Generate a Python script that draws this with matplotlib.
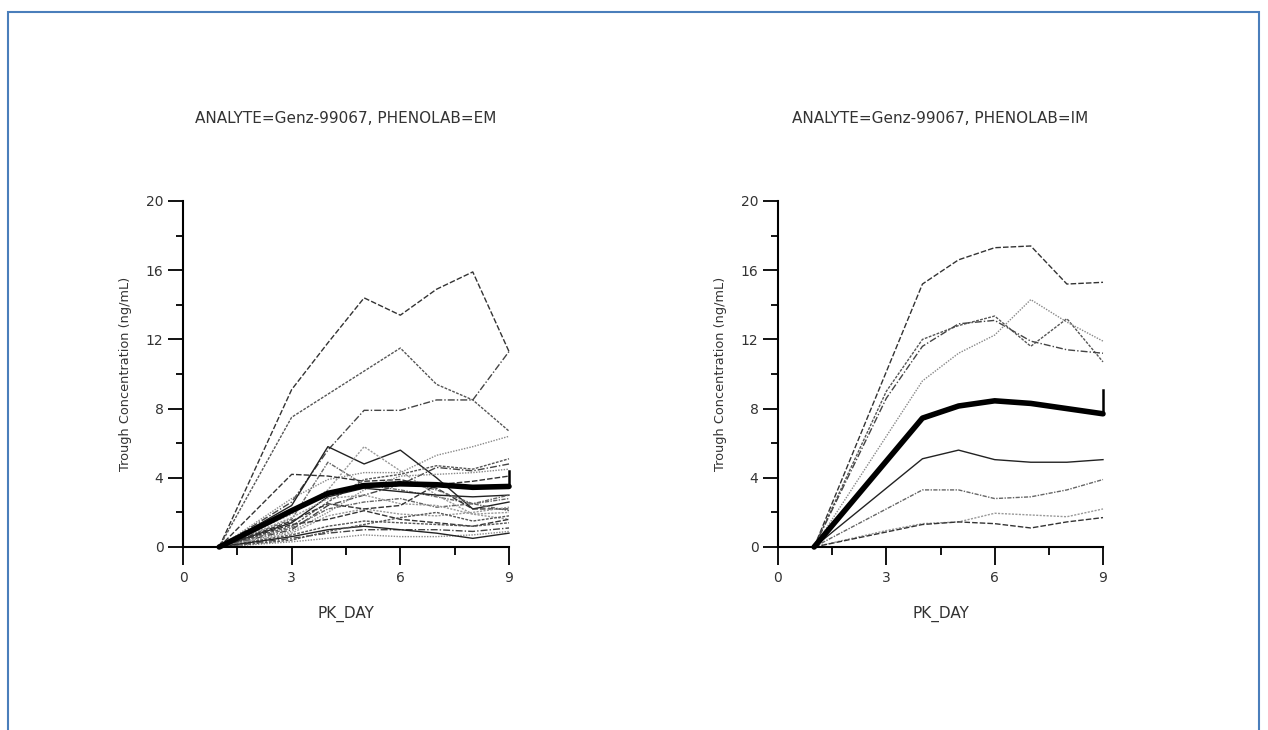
import matplotlib.pyplot as plt
import matplotlib.patches as mpatches
import numpy as np

DAYS = [1, 3, 4, 5, 6, 7, 8, 9]
N = None

# individual subjects, PHENOLAB=EM
em_subjects = [
    [0, 9.1, 11.8, 14.4, 13.4, 14.9, 15.9, 11.3],
    [0, 7.5, N, N, 11.5, 9.4, 8.5, 6.7],
    [0, 2.6, 5.6, 7.9, 7.9, 8.5, 8.5, 11.3],
    [0, 2.8, 3.9, 4.3, 4.3, 5.3, 5.8, 6.4],
    [0, 2.4, 5.8, 4.8, 5.6, 4.0, 2.2, 2.6],
    [0, 1.6, 4.9, 3.6, 3.3, 2.9, 2.5, 2.1],
    [0, 1.9, 3.3, 5.8, 4.4, 3.0, 1.9, 1.6],
    [0, 4.2, 4.1, 3.8, 3.9, 3.4, 2.2, 2.2],
    [0, 1.2, 2.6, 3.9, 4.2, 4.7, 4.5, 5.1],
    [0, 1.0, 2.4, 3.0, 3.6, 4.6, 4.4, 4.8],
    [0, 0.9, 2.0, 3.3, 4.1, 4.2, 4.3, 4.5],
    [0, 1.4, 2.9, 3.4, 3.2, 3.0, 2.9, 3.0],
    [0, 1.1, 2.2, 2.6, 2.8, 2.3, 2.5, 2.8],
    [0, 0.8, 1.8, 2.2, 1.9, 1.8, 2.0, 2.3],
    [0, 1.3, 1.6, 2.1, 1.6, 1.4, 1.2, 1.6],
    [0, 0.7, 1.2, 1.5, 1.4, 1.3, 1.2, 1.4],
    [0, 0.5, 0.8, 1.0, 1.0, 1.0, 0.9, 1.1],
    [0, 0.3, 0.5, 0.7, 0.6, 0.6, 0.7, 0.9],
    [0, 0.6, 1.0, 1.2, 1.0, 0.8, 0.5, 0.8],
    [0, 2.0, 3.1, 3.5, 3.8, 3.3, 2.5, 3.0],
    [0, 1.7, 2.8, 3.0, 2.5, 2.4, 1.9, 2.0],
    [0, 1.5, 2.5, 2.2, 2.4, 3.6, 3.8, 4.1],
    [0, 0.4, 0.9, 1.3, 1.7, 2.0, 1.5, 1.8],
]
em_mean = [0, 2.1, 3.1, 3.55, 3.65, 3.6, 3.45, 3.5]
em_spike = 4.4

# individual subjects, PHENOLAB=IM
im_subjects = [
    [0, N, 15.2, 16.6, 17.3, 17.4, 15.2, 15.3],
    [0, 9.0, 12.0, 12.8, 13.35, 11.6, 13.2, 10.7],
    [0, 8.6, 11.6, 12.9, 13.1, 11.9, 11.4, 11.2],
    [0, N, 9.6, 11.2, 12.25, 14.3, 13.0, 11.9],
    [0, N, 5.1, 5.6, 5.05, 4.9, 4.9, 5.05],
    [0, N, 3.3, 3.3, 2.8, 2.9, 3.3, 3.9],
    [0, 0.95, 1.35, 1.45, 1.95, 1.85, 1.75, 2.2],
    [0, N, 1.3, 1.45, 1.35, 1.1, 1.45, 1.7],
]
im_mean = [0, N, 7.45, 8.15, 8.45, 8.3, 8.0, 7.7]
im_spike = 9.1

titles = ["ANALYTE=Genz-99067, PHENOLAB=EM", "ANALYTE=Genz-99067, PHENOLAB=IM"]

STYLES = [
    ("#333333", (0, (4, 1.5))),
    ("#555555", (0, (2, 1))),
    ("#444444", (0, (5, 1.5, 1, 1.5))),
    ("#888888", (0, (1, 1))),
    ("#222222", "-"),
    ("#666666", (0, (3, 1, 1, 1))),
    ("#999999", (0, (1.5, 1))),
]

TXT = "#333333"


def pts(vals):
    xs = [d for d, v in zip(DAYS, vals) if v is not None]
    ys = [v for v in vals if v is not None]
    return xs, ys


def panel(ax, subjects, mean, spike, title):
    for i, s in enumerate(subjects):
        col, ls = STYLES[i % len(STYLES)]
        x, y = pts(s)
        ax.plot(x, y, color=col, linestyle=ls, linewidth=1.0, clip_on=False, zorder=2)
    x, y = pts(mean)
    ax.plot(x, y, color="black", linewidth=4.0, solid_capstyle="round",
            solid_joinstyle="round", clip_on=False, zorder=3)
    ax.plot([x[-1], x[-1]], [y[-1], spike], color="black", linewidth=1.8,
            clip_on=False, zorder=3)

    ax.set_xlim(0, 9)
    ax.set_ylim(0, 20)
    ax.spines["top"].set_visible(False)
    ax.spines["right"].set_visible(False)
    for sp in ("left", "bottom"):
        ax.spines[sp].set_linewidth(1.5)
        ax.spines[sp].set_color("black")
    ax.set_xticks([0, 3, 6, 9])
    ax.set_xticks([1.5, 4.5, 7.5], minor=True)
    ax.set_yticks([0, 4, 8, 12, 16, 20])
    ax.set_yticks([2, 6, 10, 14, 18], minor=True)
    ax.tick_params(axis="x", which="major", length=13, width=1.3, color="black",
                   labelsize=10, labelcolor=TXT, pad=4)
    ax.tick_params(axis="y", which="major", length=11, width=1.3, color="black",
                   labelsize=10, labelcolor=TXT, pad=3)
    ax.tick_params(axis="x", which="minor", length=6, width=1.3, color="black")
    ax.tick_params(axis="y", which="minor", length=5, width=1.3, color="black")
    ax.set_xlabel("PK_DAY", fontsize=11, color=TXT, labelpad=15)
    ax.set_ylabel("Trough Concentration (ng/mL)", fontsize=9.3, color=TXT, labelpad=10)
    ax.set_title(title, fontsize=11, color=TXT, pad=56)


fig = plt.figure(figsize=(12.68, 7.30), dpi=100)
ax1 = fig.add_axes([183 / 1268, 183 / 730, 326 / 1268, 346 / 730])
ax2 = fig.add_axes([778 / 1268, 183 / 730, 325 / 1268, 346 / 730])

panel(ax1, em_subjects, em_mean, em_spike, titles[0])
panel(ax2, im_subjects, im_mean, im_spike, titles[1])

# blue frame around the page
frame = mpatches.Rectangle((8 / 1268, -0.05), 1251 / 1268, (730 - 12) / 730 + 0.05,
                           transform=fig.transFigure, fill=False,
                           edgecolor="#4a7ebb", linewidth=1.5)
fig.patches.append(frame)

fig.savefig("out.png", dpi=100)
